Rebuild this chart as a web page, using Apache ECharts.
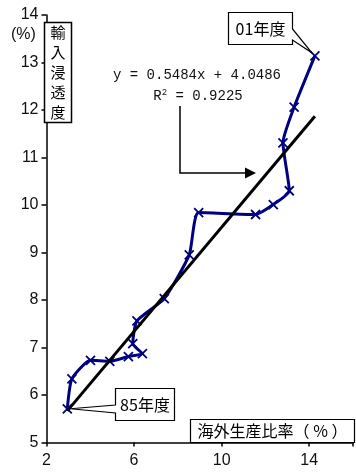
<!DOCTYPE html>
<html><head><meta charset="utf-8">
<script src="https://cdn.jsdelivr.net/npm/echarts@6/dist/echarts.min.js"></script>
<style>html,body{margin:0;padding:0;background:#fff}#c{width:356px;height:472px}</style>
</head><body><div id="c"></div>
<script>
// Fiscal years 85..01
const years = ['85','86','87','88','89','90','91','92','93','94','95','96','97','98','99','00','01'];
// Overseas production ratio (%)
const overseasRatio = [2.95,3.16,4.01,4.89,5.74,6.38,5.94,6.13,7.38,8.52,8.95,11.55,12.36,13.09,12.80,13.31,14.26];
// Import penetration (%)
const importPenetration = [5.71,6.34,6.73,6.71,6.81,6.87,7.08,7.56,8.03,8.95,9.84,9.80,10.01,10.30,11.31,12.06,13.14];
// Trend line coefficients (y = a x + b)
const trendSlope = 0.5484;
const trendIntercept = 4.0486;
const rSquared = 0.9225;
const xTickLabels = [2,6,10,14];
const yTickLabels = [5,6,7,8,9,10,11,12,13,14];

const chart = echarts.init(document.getElementById('c'));
const seriesData = overseasRatio.map((x,i)=>[x, importPenetration[i]]);
const xMin = Math.min(...overseasRatio), xMax = Math.max(...overseasRatio);
const trendData = [[xMin, trendSlope*xMin+trendIntercept],[xMax, trendSlope*xMax+trendIntercept]];
const numFont = 'Liberation Sans, Arial, sans-serif';
const cjkFont = '"Noto Sans CJK JP", sans-serif';

chart.setOption({
  animation:false,
  backgroundColor:'#fff',
  grid:{left:46.5,right:-7,top:15,bottom:29.5},
  xAxis:{type:'value',min:2,max:16,interval:4,
    axisLine:{lineStyle:{color:'#000',width:1.5}},
    axisTick:{show:true,length:4,lineStyle:{color:'#000',width:1.5}},
    splitLine:{show:false},
    axisLabel:{color:'#111',fontSize:16,fontFamily:numFont,margin:10,
      formatter:v=>xTickLabels.includes(v)?String(v):''}},
  yAxis:{type:'value',min:5,max:14,interval:1,
    axisLine:{show:true,lineStyle:{color:'#000',width:1.5}},
    axisTick:{show:true,length:5,lineStyle:{color:'#000',width:1.5}},
    splitLine:{show:false},
    axisLabel:{color:'#111',fontSize:16,fontFamily:numFont,margin:8,
      formatter:v=>yTickLabels.includes(v)?String(v):''}},
  series:[
    {type:'line',data:seriesData,smooth:0.18,z:2,
     lineStyle:{color:'#000080',width:3},
     symbol:'path://M0,0L10,10M10,0L0,10',symbolSize:9,
     itemStyle:{color:'#000080',borderColor:'#000080',borderWidth:1.8}},
    {type:'line',data:trendData,z:3,symbol:'none',
     lineStyle:{color:'#000',width:3}}
  ]
});

const tipTop = chart.convertToPixel({gridIndex:0}, seriesData[seriesData.length-1]);
const tipBot = chart.convertToPixel({gridIndex:0}, seriesData[0]);

chart.setOption({graphic:[
  {type:'text',z:100,left:11,top:27,style:{text:'(%)',font:'16px '+numFont,fill:'#111'}},
  {type:'rect',z:100,shape:{x:44.5,y:22.5,width:27,height:100},style:{fill:'#fff',stroke:'#000',lineWidth:1.5}},
  {type:'text',z:101,x:58,y:72,style:{text:'輸\n入\n浸\n透\n度',font:'15px '+cjkFont,lineHeight:20,fill:'#000',align:'center',verticalAlign:'middle'}},
  {type:'text',z:100,x:197,y:75,style:{text:'y = 0.5484x + 4.0486',font:'14px "Liberation Mono", monospace',fill:'#111',align:'center',verticalAlign:'middle'}},
  {type:'text',z:100,x:198,y:96,style:{text:'{r|R}{s|2}{r| = '+rSquared.toFixed(4)+'}',align:'center',verticalAlign:'middle',
    rich:{r:{font:'14px "Liberation Mono", monospace',fill:'#111',verticalAlign:'bottom'},s:{font:'9px "Liberation Mono", monospace',fill:'#111',verticalAlign:'top',padding:[0,0,6,0]}}}},
  {type:'polyline',z:100,shape:{points:[[180,106],[180,173],[248,173]]},style:{stroke:'#000',lineWidth:1.5,fill:null}},
  {type:'polygon',z:100,shape:{points:[[245,167.5],[256,173],[245,178.5]]},style:{fill:'#000'}},
  {type:'polygon',z:100,shape:{points:[[228.5,12.5],[292.5,12.5],[292.5,29],[tipTop[0]-3,tipTop[1]-3],[292.5,40],[292.5,44.5],[228.5,44.5]]},style:{fill:'#fff',stroke:'#000',lineWidth:1.2}},
  {type:'text',z:101,x:260.5,y:28.5,style:{text:'01年度',font:'16px '+cjkFont,fill:'#000',align:'center',verticalAlign:'middle'}},
  {type:'polygon',z:100,shape:{points:[[115.5,388.5],[174.5,388.5],[174.5,420.5],[115.5,420.5],[115.5,413],[tipBot[0]+3,tipBot[1]],[115.5,405]]},style:{fill:'#fff',stroke:'#000',lineWidth:1.2}},
  {type:'text',z:101,x:145,y:404.5,style:{text:'85年度',font:'16px '+cjkFont,fill:'#000',align:'center',verticalAlign:'middle'}},
  {type:'rect',z:100,shape:{x:190.5,y:419.5,width:164,height:23},style:{fill:'#fff',stroke:'#000',lineWidth:1.2}},
  {type:'text',z:101,x:272.5,y:431,style:{text:'海外生産比率（ % ）',font:'16px '+cjkFont,fill:'#000',align:'center',verticalAlign:'middle'}}
]});
</script></body></html>
